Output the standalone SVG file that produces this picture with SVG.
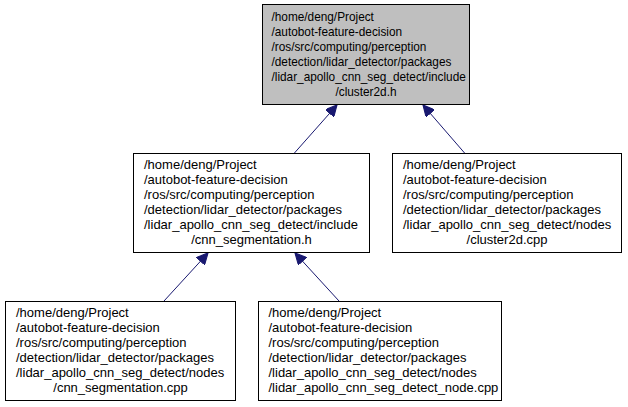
<svg xmlns="http://www.w3.org/2000/svg" width="628" height="407" viewBox="0 0 628 407">
<defs>
<style>
.box{fill:#ffffff;stroke:#000000;stroke-width:1}
.hl{fill:#bfbfbf;stroke:#000000;stroke-width:1}
text{font-family:"Liberation Sans",Arial,Helvetica,sans-serif;font-size:13px;fill:#000000}
.c{text-anchor:middle}
.edge{stroke:#191970;stroke-width:1;fill:none}
</style>
<marker id="ah" viewBox="0 0 10 10" refX="10" refY="5" markerWidth="12" markerHeight="11" markerUnits="userSpaceOnUse" orient="auto">
<path d="M0,0 L10,5 L0,10 z" fill="#191970" stroke="#191970"/>
</marker>
</defs>
<rect width="628" height="407" fill="#ffffff"/>
<g id="edges">
<line class="edge" x1="294" y1="153.5" x2="337" y2="105" marker-end="url(#ah)"/>
<line class="edge" x1="465" y1="153.5" x2="423" y2="105" marker-end="url(#ah)"/>
<line class="edge" x1="164" y1="301" x2="208" y2="253" marker-end="url(#ah)"/>
<line class="edge" x1="339" y1="301" x2="295" y2="253" marker-end="url(#ah)"/>
</g>
<g id="node_cluster2d_h">
<rect class="hl" x="262.5" y="4.5" width="207" height="100"/>
<g transform="translate(271.5,0) scale(0.91,1) translate(-271.5,0)">
<text x="271.5" y="21">/home/deng/Project</text>
<text x="271.5" y="36">/autobot-feature-decision</text>
<text x="271.5" y="51">/ros/src/computing/perception</text>
<text x="271.5" y="66">/detection/lidar_detector/packages</text>
<text x="271.5" y="81">/lidar_apollo_cnn_seg_detect/include</text>
</g>
<g transform="translate(366,0) scale(0.91,1) translate(-366,0)">
<text class="c" x="366" y="96">/cluster2d.h</text>
</g>
</g>
<g id="node_cnn_segmentation_h">
<rect class="box" x="133.5" y="153.5" width="236" height="99"/>
<text x="144" y="169">/home/deng/Project</text>
<text x="144" y="184">/autobot-feature-decision</text>
<text x="144" y="199">/ros/src/computing/perception</text>
<text x="144" y="214">/detection/lidar_detector/packages</text>
<text x="144" y="229">/lidar_apollo_cnn_seg_detect/include</text>
<text class="c" x="251.5" y="244">/cnn_segmentation.h</text>
</g>
<g id="node_cluster2d_cpp">
<rect class="box" x="392.5" y="153.5" width="229" height="99"/>
<text x="403" y="169">/home/deng/Project</text>
<text x="403" y="184">/autobot-feature-decision</text>
<text x="403" y="199">/ros/src/computing/perception</text>
<text x="403" y="214">/detection/lidar_detector/packages</text>
<text x="403" y="229">/lidar_apollo_cnn_seg_detect/nodes</text>
<text class="c" x="507" y="244">/cluster2d.cpp</text>
</g>
<g id="node_cnn_segmentation_cpp">
<rect class="box" x="5.5" y="301.5" width="230" height="99"/>
<text x="16" y="317">/home/deng/Project</text>
<text x="16" y="332">/autobot-feature-decision</text>
<text x="16" y="347">/ros/src/computing/perception</text>
<text x="16" y="362">/detection/lidar_detector/packages</text>
<text x="16" y="377">/lidar_apollo_cnn_seg_detect/nodes</text>
<text class="c" x="120.5" y="392">/cnn_segmentation.cpp</text>
</g>
<g id="node_lidar_apollo_cnn_seg_detect_node_cpp">
<rect class="box" x="258.5" y="301.5" width="243" height="99"/>
<text x="268.5" y="317">/home/deng/Project</text>
<text x="268.5" y="332">/autobot-feature-decision</text>
<text x="268.5" y="347">/ros/src/computing/perception</text>
<text x="268.5" y="362">/detection/lidar_detector/packages</text>
<text x="268.5" y="377">/lidar_apollo_cnn_seg_detect/nodes</text>
<text x="268.5" y="392">/lidar_apollo_cnn_seg_detect_node.cpp</text>
</g>
</svg>
